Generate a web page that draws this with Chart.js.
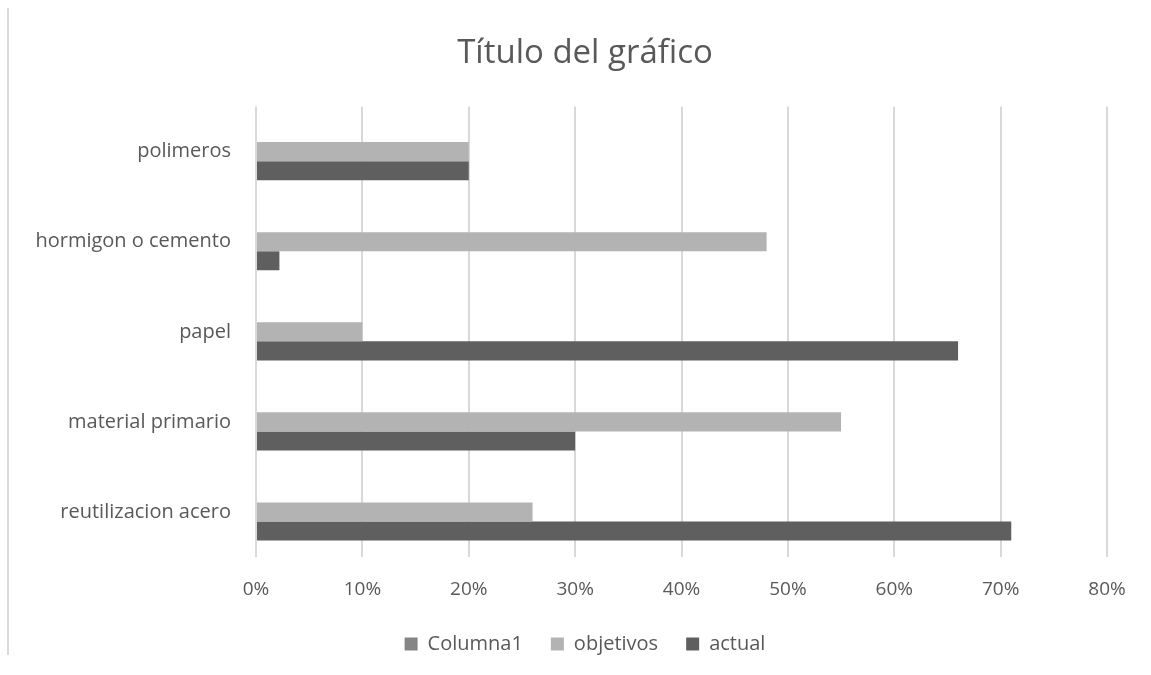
<!DOCTYPE html>
<html>
<head>
<meta charset="utf-8">
<script src="https://cdn.jsdelivr.net/npm/chart.js@4.4.1/dist/chart.umd.min.js"></script>
<style>
  html, body { margin: 0; padding: 0; background: #fff; }
  #wrap { position: relative; width: 1151px; height: 675px; }
  #edge { position: absolute; left: 7px; top: 8px; width: 2px; height: 647px; background: #d9d9d9; }
  canvas { position: absolute; left: 0; top: 0; }
</style>
</head>
<body>
<div id="wrap">
  <canvas id="c" width="1151" height="675"></canvas>
  <div id="edge"></div>
</div>
<script>
const categories = ["polimeros", "hormigon o cemento", "papel", "material primario", "reutilizacion acero"];
const columna1 = [null, null, null, null, null];
const objetivos = [0.20, 0.48, 0.10, 0.55, 0.26];
const actual = [0.20, 0.022, 0.66, 0.30, 0.71];
const xTicks = ["0%", "10%", "20%", "30%", "40%", "50%", "60%", "70%", "80%"];

const FONT = "'Open Sans', Lato, 'Liberation Sans', sans-serif";
const TXT = "#595959";

new Chart(document.getElementById("c"), {
  type: "bar",
  data: {
    labels: categories,
    datasets: [
      { label: "Columna1", data: columna1, backgroundColor: "#858585" },
      { label: "objetivos", data: objetivos, backgroundColor: "#b3b3b3" },
      { label: "actual", data: actual, backgroundColor: "#5f5f5f" }
    ]
  },
  options: {
    responsive: false,
    animation: false,
    indexAxis: "y",
    categoryPercentage: 0.635,
    barPercentage: 1.0,
    layout: { padding: { left: 63, right: 44, top: 0, bottom: 11 } },
    plugins: {
      title: {
        display: true,
        text: "Título del gráfico",
        color: TXT,
        font: { family: FONT, size: 33, weight: "normal" },
        padding: { top: 34, bottom: 33 }
      },
      legend: {
        position: "bottom",
        labels: {
          color: TXT,
          font: { family: FONT, size: 20 },
          boxWidth: 13,
          boxHeight: 13,
          padding: 28
        }
      },
      tooltip: { enabled: false }
    },
    scales: {
      x: {
        min: 0,
        max: 0.8,
        ticks: {
          stepSize: 0.1,
          color: TXT,
          font: { family: FONT, size: 19 },
          padding: 21,
          callback: (v, i) => xTicks[i]
        },
        grid: { color: "#d9d9d9", lineWidth: 2, drawTicks: false },
        border: { display: false },
        afterFit: (a) => { a.height = 49; }
      },
      y: {
        ticks: {
          color: TXT,
          font: { family: FONT, size: 20 },
          padding: 25
        },
        grid: { display: false, drawTicks: false },
        border: { display: false },
        beforeUpdate: (a) => { a._computeLabelArea = () => undefined; },
        afterFit: (a) => { a.width = 193; }
      }
    }
  }
});
</script>
</body>
</html>
